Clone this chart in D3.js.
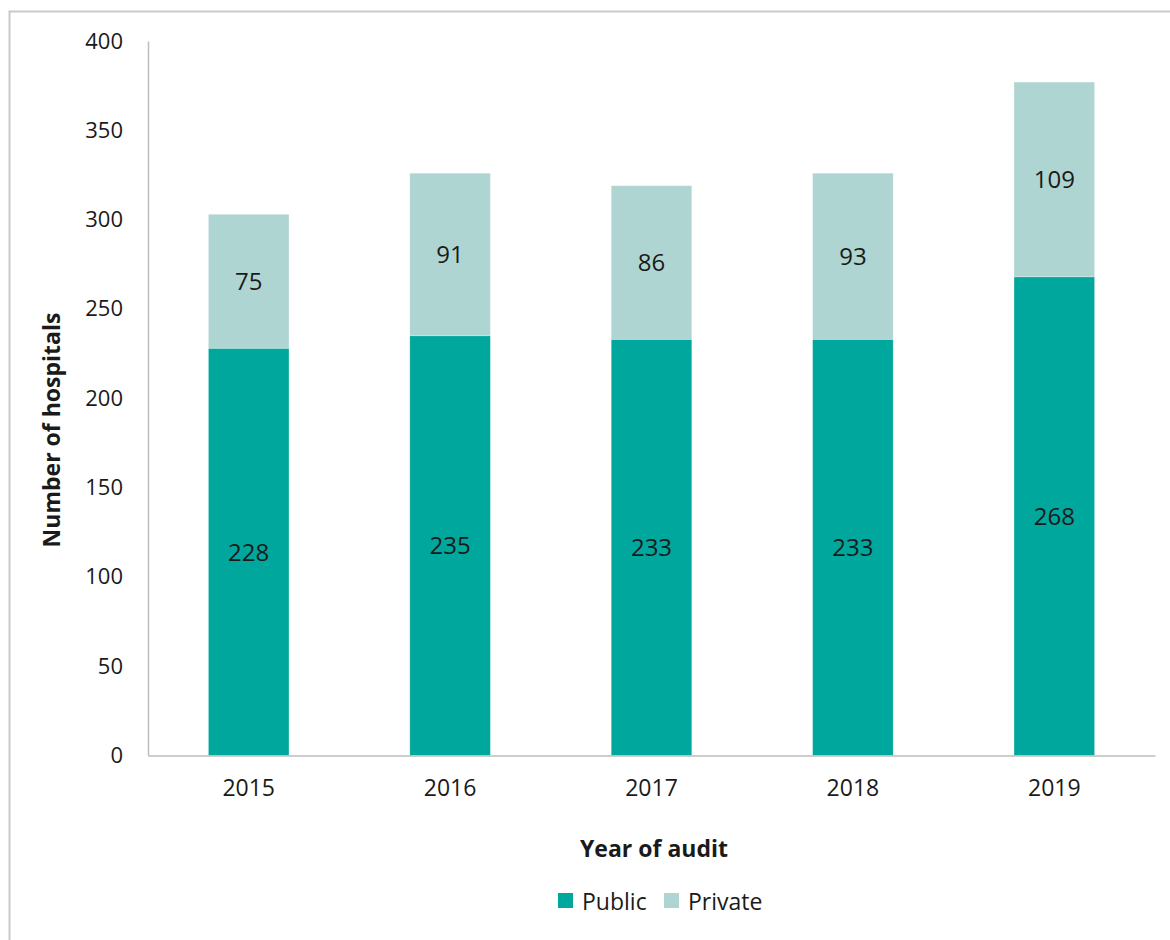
<!DOCTYPE html>
<html>
<head>
<meta charset="utf-8">
<script src="https://cdn.jsdelivr.net/npm/d3@7"></script>
<style>
  html, body { margin: 0; padding: 0; background: #fff; }
  svg { display: block; }
  text { font-family: "Open Sans", Lato, "Liberation Sans", sans-serif; fill: #1a1a1a; }
</style>
</head>
<body>
<svg id="chart" width="1170" height="940"></svg>
<script>
// Hospitals taking part in each audit year, split by sector
const years = ["2015", "2016", "2017", "2018", "2019"];
const publicCounts = [228, 235, 233, 233, 268];
const privateCounts = [75, 91, 86, 93, 109];
const yTicks = [0, 50, 100, 150, 200, 250, 300, 350, 400];
const seriesNames = ["Public", "Private"];
const seriesColors = ["#00a79d", "#afd5d2"];

const FONT = "'Open Sans', Lato, sans-serif";
const svg = d3.select("#chart");

// outer frame
svg.append("path")
  .attr("d", "M9.5,940 V11.5 H1170")
  .attr("fill", "none")
  .attr("stroke", "#c9c9c9")
  .attr("stroke-width", 2);

const plot = { left: 148, right: 1155, top: 41, bottom: 755.5 };

const x = d3.scaleBand().domain(years).range([plot.left, plot.right]).paddingInner(0.6).paddingOuter(0.3);
const y = d3.scaleLinear().domain([0, 400]).range([plot.bottom, plot.top]);

const rows = years.map((yr, i) => ({ year: yr, Public: publicCounts[i], Private: privateCounts[i] }));
const stacked = d3.stack().keys(seriesNames)(rows);

// bars
stacked.forEach((layer, li) => {
  svg.append("g").selectAll("rect")
    .data(layer)
    .join("rect")
    .attr("x", d => x(d.data.year))
    .attr("width", x.bandwidth())
    .attr("y", d => y(d[1]))
    .attr("height", d => y(d[0]) - y(d[1]))
    .attr("fill", seriesColors[li])
    .attr("stroke", "#ffffff")
    .attr("stroke-opacity", 0.35)
    .attr("stroke-width", 0.75);

  // segment value labels
  svg.append("g").selectAll("text")
    .data(layer)
    .join("text")
    .attr("x", d => x(d.data.year) + x.bandwidth() / 2)
    .attr("y", d => (y(d[0]) + y(d[1])) / 2)
    .attr("dy", "0.36em")
    .attr("text-anchor", "middle")
    .attr("font-size", 24)
    .text(d => d[1] - d[0]);
});

// y axis
const yAxis = svg.append("g")
  .attr("transform", `translate(${plot.left},0)`)
  .call(d3.axisLeft(y).tickValues(yTicks).tickSize(0).tickPadding(25));
yAxis.select(".domain").attr("stroke", "#bdbdbd").attr("stroke-width", 1.5);
yAxis.selectAll("text").attr("font-size", 22).attr("fill", "#1a1a1a").style("font-family", FONT);

// x axis
const xAxis = svg.append("g")
  .attr("transform", `translate(0,${plot.bottom})`)
  .call(d3.axisBottom(x).tickSize(0).tickPadding(24));
xAxis.select(".domain").attr("stroke", "#bdbdbd").attr("stroke-width", 1.5);
xAxis.selectAll("text").attr("font-size", 23).attr("fill", "#1a1a1a").style("font-family", FONT);

// axis titles
svg.append("text")
  .attr("x", 654)
  .attr("y", 857)
  .attr("text-anchor", "middle")
  .attr("font-size", 23)
  .attr("font-weight", "bold")
  .text("Year of audit");

svg.append("text")
  .attr("transform", "translate(60,430) rotate(-90)")
  .attr("text-anchor", "middle")
  .attr("font-size", 23)
  .attr("font-weight", "bold")
  .text("Number of hospitals");

// legend
const legend = svg.append("g");
const legendItems = [
  { name: seriesNames[0], color: seriesColors[0], sx: 558 },
  { name: seriesNames[1], color: seriesColors[1], sx: 664 }
];
legendItems.forEach(it => {
  legend.append("rect")
    .attr("x", it.sx).attr("y", 893)
    .attr("width", 15).attr("height", 15)
    .attr("fill", it.color);
  legend.append("text")
    .attr("x", it.sx + 24).attr("y", 910)
    .attr("font-size", 23)
    .text(it.name);
});
</script>
</body>
</html>
